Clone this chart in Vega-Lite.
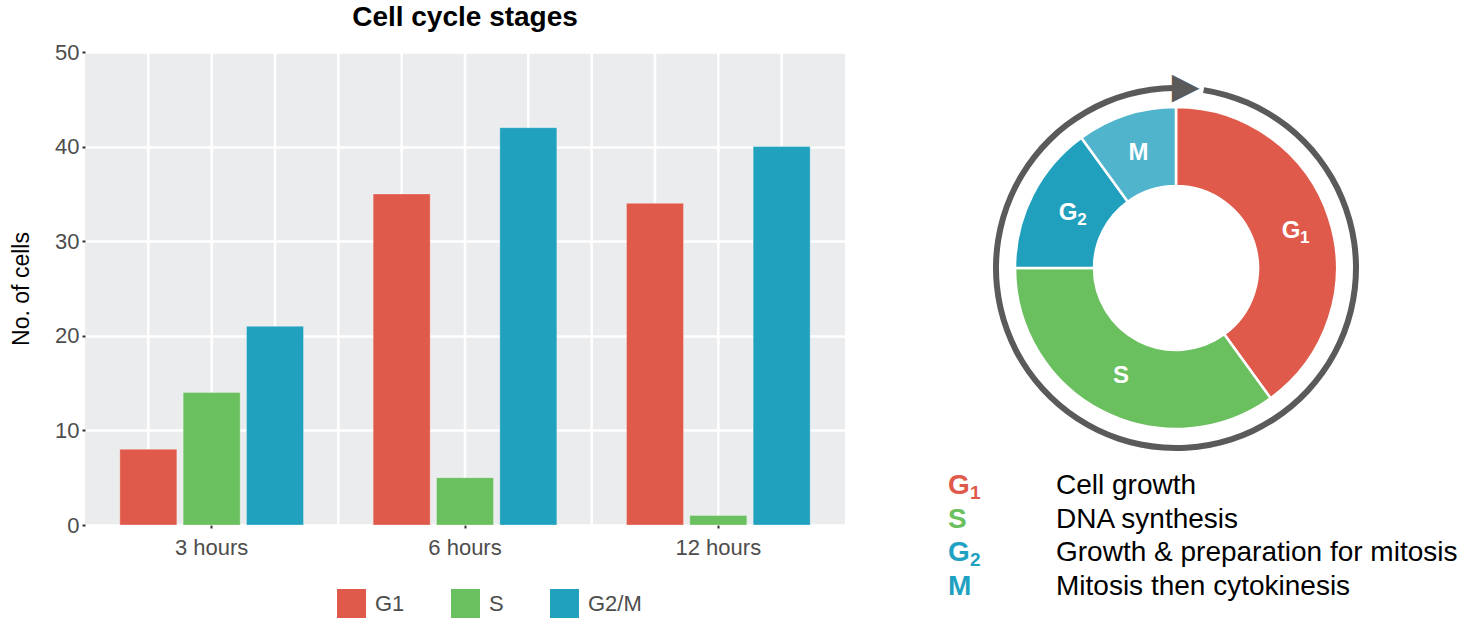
{
  "$schema": "https://vega.github.io/schema/vega-lite/v6.json",
  "background": "white",
  "padding": {"left": 10, "top": 4, "right": 4, "bottom": 2},
  "config": {
    "font": "Liberation Sans",
    "view": {"stroke": null},
    "concat": {"spacing": 103},
    "axisX": {"title": null, "labelAngle": 0, "labelFontSize": 22, "labelColor": "#4D4D4D", "domain": false, "grid": false, "ticks": true, "tickColor": "#333333", "tickSize": 3, "tickWidth": 2, "labelPadding": 9},
    "axisY": {"labelFontSize": 22, "labelColor": "#4D4D4D", "titleFontSize": 23, "titleFontWeight": "normal", "titleColor": "black", "titlePadding": 21, "domain": false, "grid": true, "gridColor": "white", "gridWidth": 2.5, "tickColor": "#333333", "tickSize": 3, "tickWidth": 2, "labelPadding": 3}
  },
  "resolve": {"scale": {"color": "independent"}},
  "hconcat": [
    {
      "width": 760,
      "height": 473,
      "title": {"text": "Cell cycle stages", "fontSize": 28, "fontWeight": "bold", "color": "black", "anchor": "middle", "offset": 9},
      "view": {"fill": "#EBECEE", "stroke": null},
      "data": {
        "values": [
          {"time": "3 hours", "stage": "G1", "cells": 8},
          {"time": "3 hours", "stage": "S", "cells": 14},
          {"time": "3 hours", "stage": "G2/M", "cells": 21},
          {"time": "6 hours", "stage": "G1", "cells": 35},
          {"time": "6 hours", "stage": "S", "cells": 5},
          {"time": "6 hours", "stage": "G2/M", "cells": 42},
          {"time": "12 hours", "stage": "G1", "cells": 34},
          {"time": "12 hours", "stage": "S", "cells": 1},
          {"time": "12 hours", "stage": "G2/M", "cells": 40}
        ]
      },
      "layer": [
        {
          "transform": [{"filter": "datum.time !== '3 hours' && datum.stage === 'G1'"}],
          "mark": {"type": "rule", "color": "white", "strokeWidth": 2.5},
          "encoding": {
            "x": {"field": "time", "type": "nominal", "bandPosition": 0, "sort": ["3 hours", "6 hours", "12 hours"], "scale": {"paddingInner": 0, "paddingOuter": 0}}
          }
        },
        {
          "mark": {"type": "rule", "color": "white", "strokeWidth": 2.5},
          "encoding": {
            "x": {"field": "time", "type": "nominal", "sort": ["3 hours", "6 hours", "12 hours"]},
            "xOffset": {"field": "stage", "type": "nominal", "sort": ["G1", "S", "G2/M"], "scale": {"paddingInner": 0.1, "paddingOuter": 0.55}}
          }
        },
        {
          "mark": {"type": "bar", "stroke": "white", "strokeOpacity": 0.3, "strokeWidth": 1},
          "encoding": {
            "x": {"field": "time", "type": "nominal", "sort": ["3 hours", "6 hours", "12 hours"]},
            "xOffset": {"field": "stage", "type": "nominal", "sort": ["G1", "S", "G2/M"]},
            "y": {
              "field": "cells", "type": "quantitative",
              "scale": {"domain": [0, 50], "nice": false},
              "axis": {"title": "No. of cells", "values": [0, 10, 20, 30, 40, 50]}
            },
            "color": {
              "field": "stage", "type": "nominal", "sort": ["G1", "S", "G2/M"],
              "scale": {"domain": ["G1", "S", "G2/M"], "range": ["#E05A4B", "#6ABF5F", "#20A1BE"]},
              "legend": {"orient": "none", "legendX": 252, "legendY": 537, "direction": "horizontal", "title": null, "symbolType": "square", "symbolSize": 841, "symbolStrokeWidth": 0, "labelFontSize": 22, "labelColor": "#4D4D4D", "columnPadding": 46, "labelOffset": 9, "padding": 0}
            }
          }
        }
      ]
    },
    {
      "spacing": 2,
      "bounds": "flush",
      "resolve": {"scale": {"color": "independent"}},
      "vconcat": [
        {
          "width": 456,
          "height": 432,
          "data": {
            "values": [
              {"phase": "G1", "letter": "G", "sub": "1", "value": 40, "order": 1},
              {"phase": "S", "letter": "S", "sub": "", "value": 35, "order": 2},
              {"phase": "G2", "letter": "G", "sub": "2", "value": 15, "order": 3},
              {"phase": "M", "letter": "M", "sub": "", "value": 10, "order": 4}
            ]
          },
          "layer": [
            {
              "data": {"values": [{"ring": "cycle"}]},
              "mark": {"type": "arc", "fill": "#5A5A5A", "theta": 0.154, "theta2": 6.27, "outerRadius": 183, "innerRadius": 177},
              "encoding": {}
            },
            {
              "data": {"values": [{"ring": "cycle"}]},
              "mark": {"type": "text", "text": "▶", "theta": 0.053, "radius": 181, "fontSize": 36, "font": "DejaVu Sans", "fill": "#5A5A5A", "align": "center", "baseline": "middle"},
              "encoding": {}
            },
            {
              "mark": {"type": "arc", "innerRadius": 82, "outerRadius": 161, "stroke": "white", "strokeWidth": 2.5},
              "encoding": {
                "theta": {"field": "value", "type": "quantitative", "stack": true},
                "order": {"field": "order", "type": "quantitative"},
                "color": {"field": "phase", "type": "nominal", "scale": {"domain": ["G1", "S", "G2", "M"], "range": ["#E05A4B", "#6ABF5F", "#21A0BE", "#50B4CC"]}, "legend": null}
              }
            },
            {
              "mark": {"type": "text", "radius": 121, "fontSize": 24, "fontWeight": "bold", "fill": "white", "align": "center", "baseline": "middle"},
              "encoding": {
                "theta": {"field": "value", "type": "quantitative", "stack": true},
                "order": {"field": "order", "type": "quantitative"},
                "text": {"field": "letter"}
              }
            },
            {
              "mark": {"type": "text", "radius": 121, "fontSize": 17, "fontWeight": "bold", "fill": "white", "align": "left", "baseline": "middle", "dx": 9, "dy": 7},
              "encoding": {
                "theta": {"field": "value", "type": "quantitative", "stack": true},
                "order": {"field": "order", "type": "quantitative"},
                "text": {"field": "sub"}
              }
            }
          ]
        },
        {
          "width": 108,
          "height": 101,
          "data": {
            "values": [
              {"phase": "G1", "letter": "G", "sub": "1", "desc": "Cell growth"},
              {"phase": "S", "letter": "S", "sub": "", "desc": "DNA synthesis"},
              {"phase": "G2", "letter": "G", "sub": "2", "desc": "Growth & preparation for mitosis"},
              {"phase": "M", "letter": "M", "sub": "", "desc": "Mitosis then cytokinesis"}
            ]
          },
          "encoding": {
            "y": {"field": "phase", "type": "nominal", "sort": ["G1", "S", "G2", "M"], "scale": {"type": "point", "padding": 0}, "axis": null},
            "x": {"datum": "code", "type": "nominal", "scale": {"type": "point", "domain": ["code", "desc"], "padding": 0}, "axis": null},
            "color": {"field": "phase", "type": "nominal", "scale": {"domain": ["G1", "S", "G2", "M"], "range": ["#E05A4B", "#6ABF5F", "#1FA1C1", "#1FA1C1"]}, "legend": null}
          },
          "layer": [
            {
              "mark": {"type": "text", "align": "left", "baseline": "middle", "fontSize": 28, "fontWeight": "bold"},
              "encoding": {"text": {"field": "letter"}}
            },
            {
              "mark": {"type": "text", "align": "left", "baseline": "middle", "fontSize": 19, "fontWeight": "bold", "dx": 22, "dy": 7},
              "encoding": {"text": {"field": "sub"}}
            },
            {
              "mark": {"type": "text", "align": "left", "baseline": "middle", "fontSize": 28},
              "encoding": {
                "x": {"datum": "desc", "type": "nominal", "axis": null},
                "text": {"field": "desc"},
                "color": {"value": "black"}
              }
            }
          ]
        }
      ]
    }
  ]
}
